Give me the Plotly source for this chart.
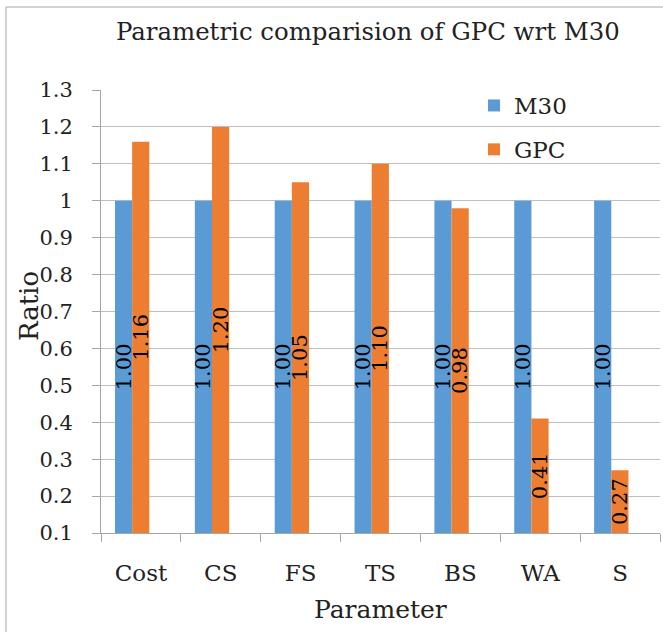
import plotly.graph_objects as go

categories = ["Cost", "CS", "FS", "TS", "BS", "WA", "S"]
m30_values = [1.00, 1.00, 1.00, 1.00, 1.00, 1.00, 1.00]
gpc_values = [1.16, 1.20, 1.05, 1.10, 0.98, 0.41, 0.27]
y_tickvals = [0.1, 0.2, 0.3, 0.4, 0.5, 0.6, 0.7, 0.8, 0.9, 1.0, 1.1, 1.2, 1.3]
y_ticktext = ["0.1", "0.2", "0.3", "0.4", "0.5", "0.6", "0.7", "0.8", "0.9", "1", "1.1", "1.2", "1.3"]

FONT = "DejaVu Serif"
W, H = 663, 632
L, R, T, B = 101, 3, 90, 99
PW, PH = W - L - R, H - T - B


def px_x(v):
    return (v - L) / PW


def px_y(v):
    return (H - v - B) / PH


BAR_W = 0.215
BASE = 0.1
label_font = dict(family=FONT, size=21, color="#000000")

fig = go.Figure()
fig.add_trace(go.Bar(
    x=categories, y=[v - BASE for v in m30_values], base=BASE, name="M30",
    marker_color="#5B9BD5", marker_line_width=0,
    width=BAR_W, offset=-0.325,
    text=[f"{v:.2f}" for v in m30_values], textposition="inside",
    textangle=-90, insidetextanchor="middle", constraintext="none",
    textfont=label_font, legendgroup="a",
))
fig.add_trace(go.Bar(
    x=categories, y=[v - BASE for v in gpc_values], base=BASE, name="GPC",
    marker_color="#ED7D31", marker_line_width=0,
    width=BAR_W, offset=-0.11,
    text=[f"{v:.2f}" for v in gpc_values], textposition="inside",
    textangle=-90, insidetextanchor="middle", constraintext="none",
    textfont=label_font, legendgroup="b",
))

fig.update_layout(
    width=W, height=H,
    margin=dict(l=L, r=R, t=T, b=B),
    paper_bgcolor="white", plot_bgcolor="white",
    barmode="overlay",
    font=dict(family=FONT, size=21, color="#222222"),
    showlegend=True,
    legend=dict(
        x=px_x(474), y=px_y(84), xanchor="left", yanchor="top",
        bgcolor="rgba(0,0,0,0)", font=dict(family=FONT, size=23, color="#222222"),
        traceorder="grouped", tracegroupgap=11, itemwidth=30,
    ),
    xaxis=dict(
        showline=True, linecolor="#A6A6A6", linewidth=1,
        ticks="outside", ticklen=8, tickcolor="#A6A6A6", tickson="boundaries",
        tickfont=dict(family=FONT, size=23, color="#222222"),
        ticklabelstandoff=19, showgrid=False,
    ),
    yaxis=dict(
        range=[0.1, 1.3], tickvals=y_tickvals, ticktext=y_ticktext,
        showline=True, linecolor="#A6A6A6", linewidth=1,
        ticks="outside", ticklen=8, tickcolor="#A6A6A6",
        showgrid=True, gridcolor="#BFBFBF", gridwidth=1,
        tickfont=dict(family=FONT, size=21, color="#222222"),
        ticklabelstandoff=15, zeroline=False,
    ),
    shapes=[dict(
        type="rect", xref="paper", yref="paper",
        x0=px_x(6), x1=px_x(W + 20),
        y0=px_y(H + 20), y1=px_y(7),
        line=dict(color="#A6A6A6", width=1), layer="below",
    )],
    annotations=[
        dict(text="Parametric comparision of GPC wrt M30", xref="paper", yref="paper",
             x=px_x(368), y=px_y(32), xanchor="center", yanchor="middle", showarrow=False,
             font=dict(family=FONT, size=24.4, color="#222222")),
        dict(text="Ratio", xref="paper", yref="paper",
             x=px_x(29), y=px_y(306), xanchor="center", yanchor="middle",
             showarrow=False, textangle=-90,
             font=dict(family=FONT, size=26, color="#222222")),
        dict(text="Parameter", xref="paper", yref="paper",
             x=px_x(380), y=px_y(609), xanchor="center", yanchor="middle", showarrow=False,
             font=dict(family=FONT, size=25, color="#222222")),
    ],
)

fig.write_html("out.html")
